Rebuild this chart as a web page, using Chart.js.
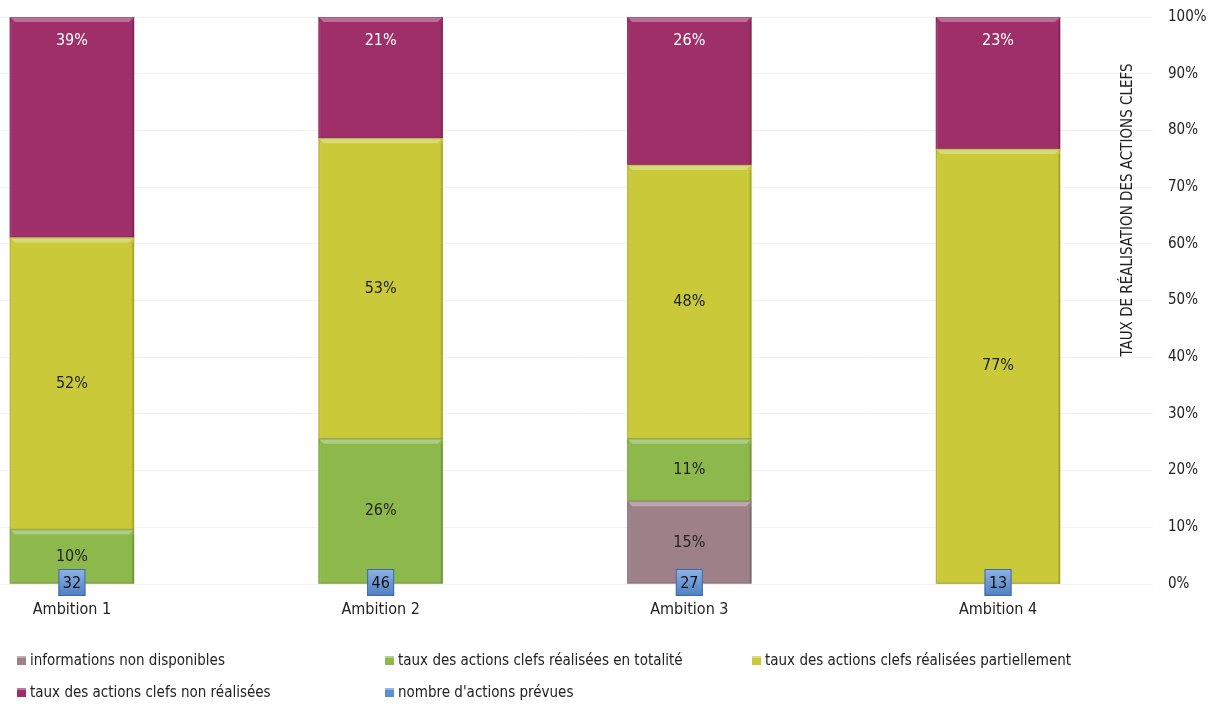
<!DOCTYPE html>
<html>
<head>
<meta charset="utf-8">
<script src="https://cdn.jsdelivr.net/npm/chart.js@4"></script>
<style>
  html, body { margin:0; padding:0; background:#fff; }
  #wrap { width:1220px; height:706px; }
</style>
</head>
<body>
<div id="wrap"><canvas id="chart" width="1220" height="706"></canvas></div>
<script>
// ── data ──
const categories   = ['Ambition 1', 'Ambition 2', 'Ambition 3', 'Ambition 4'];
const nonDispo     = [0, 0, 14.6, 0];
const totalite     = [9.6, 25.6, 11.0, 0];
const partiel      = [51.5, 53.0, 48.3, 76.7];
const nonRealisees = [38.9, 21.4, 26.1, 23.3];
const nbActions    = [32, 46, 27, 13];
const yTitle = 'TAUX DE RÉALISATION DES ACTIONS CLEFS';

const FONT = '"Liberation Sans Narrow", "DejaVu Sans Condensed", "Roboto Condensed", sans-serif';
const xs = categories.map((c, i) => i);
const pts = arr => arr.map((v, i) => ({ x: xs[i], y: v }));

const BLUE = '#5c8ed3';

// bevel look on each bar
const bevel = {
  id: 'bevel',
  afterDatasetsDraw(chart) {
    const ctx = chart.ctx;
    chart.data.datasets.forEach((ds, di) => {
      chart.getDatasetMeta(di).data.forEach((el, i) => {
        if (!ds.data[i].y) return;
        const l = el.x - el.width/2, r = el.x + el.width/2;
        const t = Math.min(el.y, el.base), b = Math.max(el.y, el.base);
        const e = 5;
        ctx.save();
        ctx.fillStyle = 'rgba(255,255,255,0.30)';
        ctx.beginPath(); ctx.moveTo(l,t); ctx.lineTo(r,t); ctx.lineTo(r-e,t+e); ctx.lineTo(l+e,t+e); ctx.closePath(); ctx.fill();
        ctx.fillStyle = 'rgba(255,255,255,0.08)';
        ctx.fillRect(l, t+e, 2, b-t-e);
        ctx.fillStyle = 'rgba(0,0,0,0.10)';
        ctx.fillRect(r-2, t+e, 2, b-t-e);
        ctx.strokeStyle = 'rgba(0,0,0,0.12)'; ctx.lineWidth = 1;
        ctx.strokeRect(l+0.5, t+0.5, r-l-1, b-t-1);
        ctx.restore();
      });
    });
  }
};

// values in the bars, count boxes, axis title, legend
const annot = {
  id: 'annot',
  afterDraw(chart) {
    const ctx = chart.ctx;
    ctx.save();
    ctx.font = '16px ' + FONT;
    ctx.textAlign = 'center'; ctx.textBaseline = 'middle';
    chart.data.datasets.forEach((ds, di) => {
      chart.getDatasetMeta(di).data.forEach((el, i) => {
        const v = ds.data[i].y;
        if (!v) return;
        const top = Math.min(el.y, el.base);
        const y = ds.labelTop ? top + 24 : (el.y + el.base) / 2;
        ctx.fillStyle = ds.labelColor;
        ctx.fillText(Math.round(v) + '%', el.x, y);
      });
    });
    // count boxes
    const xScale = chart.scales.x, yScale = chart.scales.y;
    const y0 = yScale.getPixelForValue(0);
    nbActions.forEach((n, i) => {
      const cx = xScale.getPixelForValue(xs[i]);
      const w = 27, h = 27, l = cx - w/2, t = y0 - 15;
      const g = ctx.createLinearGradient(0, t, 0, t+h);
      g.addColorStop(0, '#8fb3e6'); g.addColorStop(1, '#4e7fc2');
      ctx.fillStyle = g; ctx.fillRect(l, t, w, h);
      ctx.strokeStyle = '#3d6aa6'; ctx.lineWidth = 1; ctx.strokeRect(l+0.5, t+0.5, w-1, h-1);
      ctx.fillStyle = '#111';
      ctx.fillText(String(n), cx, t + h/2 + 1);
    });
    // axis title
    ctx.save();
    ctx.translate(1128, 210); ctx.rotate(-Math.PI/2);
    ctx.font = '15px ' + FONT; ctx.fillStyle = '#222';
    ctx.fillText(yTitle, 0, 0);
    ctx.restore();
    // legend
    const items = chart.data.datasets.map(d => ({ text: d.label, color: d.backgroundColor }));
    items.push({ text: "nombre d'actions prévues", color: BLUE });
    const cols = [17, 385, 752], rows = [661, 693];
    ctx.font = '15px ' + FONT; ctx.textAlign = 'left';
    items.forEach((it, k) => {
      const x = cols[k % 3], y = rows[Math.floor(k / 3)];
      ctx.fillStyle = it.color; ctx.fillRect(x, y-5, 9, 9);
      ctx.fillStyle = 'rgba(255,255,255,0.35)'; ctx.fillRect(x, y-5, 9, 2);
      ctx.fillStyle = '#222';
      ctx.fillText(it.text, x + 13, y);
    });
    ctx.restore();
  }
};

new Chart(document.getElementById('chart').getContext('2d'), {
  type: 'bar',
  data: {
    datasets: [
      { label:'informations non disponibles', data:pts(nonDispo), backgroundColor:'#9e8088', labelColor:'#222' },
      { label:'taux des actions clefs réalisées en totalité', data:pts(totalite), backgroundColor:'#8cb84c', labelColor:'#222' },
      { label:'taux des actions clefs réalisées partiellement', data:pts(partiel), backgroundColor:'#c9c93a', labelColor:'#222' },
      { label:'taux des actions clefs non réalisées', data:pts(nonRealisees), backgroundColor:'#9e2f68', labelColor:'#fff', labelTop:true },
    ]
  },
  options: {
    responsive:false, animation:false,
    layout:{ padding:{ top:17, left:0, right:0, bottom:0 } },
    datasets:{ bar:{ barThickness:124, borderWidth:0 } },
    plugins:{ legend:{ display:false }, tooltip:{ enabled:false } },
    scales:{
      x:{ type:'linear', stacked:true, offset:false, min:-0.233, max:3.502,
          grid:{ display:false, drawTicks:false }, border:{ display:false },
          afterBuildTicks: s => { s.ticks = xs.map(v => ({ value:v })); },
          afterFit: s => { s.height = 122; s.paddingLeft = 0; s.paddingRight = 0; },
          ticks:{ padding:16, autoSkip:false, maxRotation:0, color:'#222', font:{ family:FONT, size:16 },
                  callback: v => categories[v] } },
      y:{ position:'right', stacked:true, min:0, max:100,
          grid:{ color:'rgba(0,0,0,0.05)', drawTicks:false }, border:{ display:false },
          afterFit: s => { s.width = 67; s.paddingTop = 0; s.paddingBottom = 0; },
          ticks:{ stepSize:10, padding:15, color:'#222', font:{ family:FONT, size:15 }, callback: v => v + '%' } }
    }
  },
  plugins:[bevel, annot]
});
</script>
</body>
</html>
